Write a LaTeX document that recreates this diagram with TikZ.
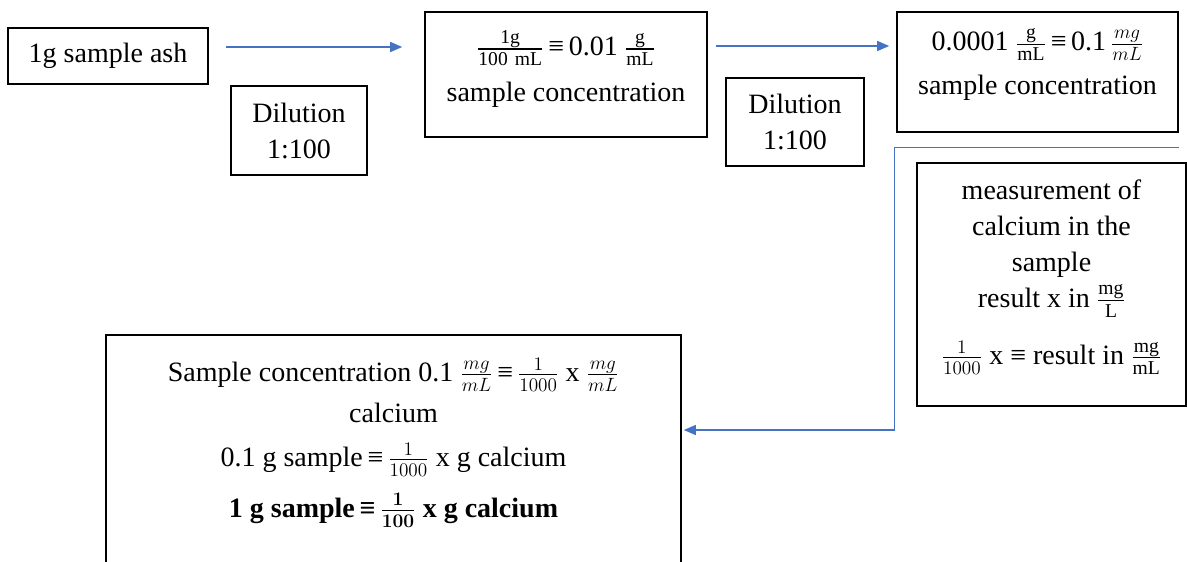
\documentclass[tikz,border=0pt]{standalone}
\usepackage{fontspec}
\setmainfont{Liberation Serif}
\usepackage{amsmath}
\usepackage{tikz}
\usetikzlibrary{positioning,arrows.meta,calc}
\definecolor{flowblue}{HTML}{4472C4}
\newcommand{\eqv}{\text{\,≡\,}}

\begin{document}
\begin{tikzpicture}[x=0.75pt, y=-0.75pt,
    box/.style={draw, line width=1.2pt, align=center, inner sep=0pt,
      font=\fontsize{21}{27}\selectfont},
    txt/.style={align=center, inner sep=0pt, font=\fontsize{21}{27}\selectfont},
    flow/.style={draw=flowblue, line width=1pt, -{Triangle[length=9pt, width=7.5pt]}}]
  \useasboundingbox (0,0) rectangle (1187,561);
  % top row
  \node[box, minimum width=150pt, minimum height=42pt] (ash) at (108,56) {1g sample ash};
  \node[box, minimum width=102pt, minimum height=66.75pt] (dil1) at (299,130.5) {Dilution\\1:100};
  \node[box, minimum width=211.5pt, minimum height=93.75pt] (conc1) at (566,74.5) {};
  \node[txt, below=14pt of conc1.north] (conc1txt)
    {$\frac{\mathrm{1g}}{\mathrm{100\ mL}}\eqv$0.01 $\frac{\mathrm{g}}{\mathrm{mL}}$\\[7pt]sample concentration};
  \node[box, minimum width=103.5pt, minimum height=66pt] (dil2) at (795,122) {Dilution\\1:100};
  \node[box, minimum width=210.75pt, minimum height=90pt] (conc2) at (1037.5,72) {};
  \node[txt, below=12.5pt of conc2.north] (conc2txt)
    {0.0001 $\frac{\mathrm{g}}{\mathrm{mL}}\eqv$0.1$\,\frac{mg}{mL}$\\[6pt]sample concentration};
  % measurement and result
  \node[box, minimum width=201.75pt, minimum height=182.25pt] (meas) at (1051.5,284.5) {};
  \node[txt, below=13pt of meas.north] (meastxt)
    {measurement of\\calcium in the\\sample\\result x in $\frac{\mathrm{mg}}{\mathrm{L}}$\\[16pt]
     $\frac{1}{1000}$ x ≡ result in $\frac{\mathrm{mg}}{\mathrm{mL}}$};
  \node[box, minimum width=431.25pt, minimum height=183.75pt] (final) at (393.5,457.5) {};
  \node[txt, below=18pt of final.north] (finaltxt)
    {Sample concentration 0.1 $\frac{mg}{mL}\eqv\frac{1}{1000}$ x $\frac{mg}{mL}$\\[3.75pt]calcium\\[6pt]
     0.1 g sample$\eqv\frac{1}{1000}$ x g calcium\\[11pt]
     {\bfseries\boldmath 1 g sample$\eqv\frac{1}{100}$ x g calcium}};
  % arrows
  \draw[flow] ($(ash.east)+(17,-9)$) -- ($(conc1.west)+(-22,-27.5)$);
  \draw[flow] ($(conc1.east)+(8,-28.5)$) -- ($(conc2.west)+(-7,-26)$);
  \coordinate (ret) at ($(conc2.south east)+(0,15)$);
  \draw[flow] (ret) -- ($(conc2.south west)+(-2,15)$) |- ($(final.east)+(2,-27.5)$);
\end{tikzpicture}
\end{document}
